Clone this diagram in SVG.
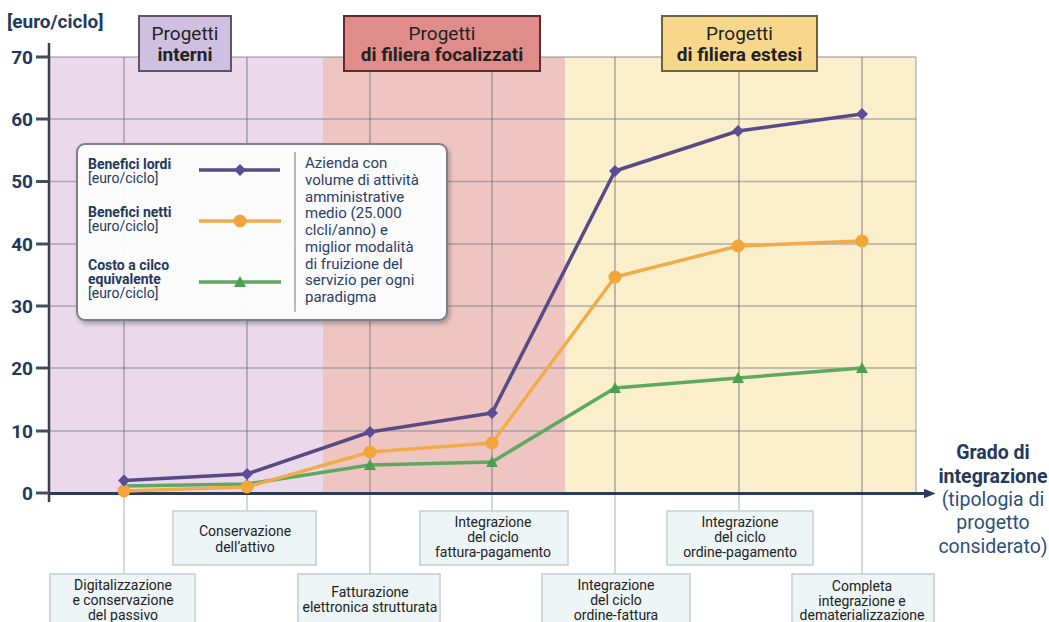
<svg xmlns="http://www.w3.org/2000/svg" width="1049" height="622" viewBox="0 0 1049 622">
<defs>
<style>
text{font-family:Roboto,"Liberation Sans",sans-serif}
.tick{font-size:19px;font-weight:700;fill:#23395b;text-anchor:end}
.hdr{font-size:19px;fill:#222;text-anchor:middle}
.hdrb{font-size:19px;fill:#222;text-anchor:middle;font-weight:700}
.lab{font-size:14px;fill:#222;text-anchor:middle}
.box{fill:#eef5f7;stroke:#c5ced3;stroke-width:1.5}
.grid{stroke:#7f838c;stroke-width:1.3;opacity:.6}
.vgrid{stroke:#6e7078;stroke-width:1.2;opacity:.7}
.lead{stroke:#a9b0b6;stroke-width:1}
.lg{font-size:14px;fill:#23395b}
.lgb{font-size:14px;fill:#23395b;font-weight:700}
.desc{font-size:15px;fill:#2a4066}
.purp{fill:none;stroke:#574a86;stroke-width:3.5;stroke-linejoin:round}
.oran{fill:none;stroke:#f0ab4a;stroke-width:3.5;stroke-linejoin:round}
.gree{fill:none;stroke:#5ea862;stroke-width:3.5;stroke-linejoin:round}
.xt{font-size:19.5px;text-anchor:middle}
</style>
<marker id="dia" viewBox="-6 -6 12 12" markerWidth="12" markerHeight="12" markerUnits="userSpaceOnUse"><path d="M0,-6 L6,0 L0,6 L-6,0Z" fill="#5b4c99"/></marker>
<marker id="cir" viewBox="-7 -7 14 14" markerWidth="14" markerHeight="14" markerUnits="userSpaceOnUse"><circle r="6.5" fill="#f2a63a"/></marker>
<marker id="tri" viewBox="-6 -6 12 12" markerWidth="12" markerHeight="12" markerUnits="userSpaceOnUse"><path d="M0,-6 L6,5 L-6,5Z" fill="#4aa050"/></marker>
<marker id="arr" viewBox="0 0 10 10" refX="2" refY="5" markerWidth="4" markerHeight="4" orient="auto"><path d="M0,1 L10,5 L0,9Z" fill="#2c3a5c"/></marker>
<filter id="sh" x="-5%" y="-5%" width="110%" height="115%"><feDropShadow dx="2" dy="3" stdDeviation="2" flood-color="#555" flood-opacity="0.45"/></filter>
</defs>
<rect width="1049" height="622" fill="#ffffff"/>
<g id="backgrounds">
<rect x="49" y="57" width="274" height="436" fill="#ebd8ea"/>
<rect x="323" y="57" width="242" height="436" fill="#efc5c2"/>
<rect x="565" y="57" width="351" height="436" fill="#faeecb"/>
</g>
<g id="grid">
<line class="grid" x1="49" y1="57" x2="916" y2="57"/>
<line class="grid" x1="49" y1="119" x2="916" y2="119"/>
<line class="grid" x1="49" y1="181.5" x2="916" y2="181.5"/>
<line class="grid" x1="49" y1="244" x2="916" y2="244"/>
<line class="grid" x1="49" y1="306" x2="916" y2="306"/>
<line class="grid" x1="49" y1="368" x2="916" y2="368"/>
<line class="grid" x1="49" y1="431" x2="916" y2="431"/>
<line class="grid" x1="916" y1="57" x2="916" y2="493" stroke="#b9b5a8" stroke-width="1"/>
<line class="vgrid" x1="124" y1="57" x2="124" y2="493"/>
<line class="vgrid" x1="247" y1="57" x2="247" y2="493"/>
<line class="vgrid" x1="370" y1="57" x2="370" y2="493"/>
<line class="vgrid" x1="492" y1="57" x2="492" y2="493"/>
<line class="vgrid" x1="615" y1="57" x2="615" y2="493"/>
<line class="vgrid" x1="739" y1="57" x2="739" y2="493"/>
<line class="vgrid" x1="862" y1="57" x2="862" y2="493"/>
</g>
<g id="connectors">
<line class="lead" x1="124" y1="495" x2="124" y2="574"/>
<line class="lead" x1="247" y1="495" x2="247" y2="511"/>
<line class="lead" x1="370" y1="495" x2="370" y2="574"/>
<line class="lead" x1="492" y1="495" x2="492" y2="511"/>
<line class="lead" x1="615" y1="495" x2="615" y2="574" stroke="#8a9096"/>
<line class="lead" x1="739" y1="495" x2="739" y2="511"/>
<line class="lead" x1="862" y1="495" x2="862" y2="574" stroke="#8a9096"/>
</g>
<g id="axes">
<line x1="49" y1="43" x2="49" y2="502" stroke="#3a3f4c" stroke-width="2.5"/>
<line x1="36" y1="57" x2="49" y2="57" stroke="#4a4d55" stroke-width="3"/>
<line x1="36" y1="119" x2="49" y2="119" stroke="#4a4d55" stroke-width="3"/>
<line x1="36" y1="181.5" x2="49" y2="181.5" stroke="#4a4d55" stroke-width="3"/>
<line x1="36" y1="244" x2="49" y2="244" stroke="#4a4d55" stroke-width="3"/>
<line x1="36" y1="306" x2="49" y2="306" stroke="#4a4d55" stroke-width="3"/>
<line x1="36" y1="368" x2="49" y2="368" stroke="#4a4d55" stroke-width="3"/>
<line x1="36" y1="431" x2="49" y2="431" stroke="#4a4d55" stroke-width="3"/>
<line x1="36" y1="493" x2="49" y2="493" stroke="#4a4d55" stroke-width="3"/>
<line x1="49" y1="493.5" x2="926" y2="493.5" stroke="#2c3a5c" stroke-width="3" marker-end="url(#arr)"/>
<text x="7" y="28" font-size="19" font-weight="700" fill="#23395b">[euro/ciclo]</text>
<text class="tick" x="33" y="64">70</text>
<text class="tick" x="33" y="126">60</text>
<text class="tick" x="33" y="188">50</text>
<text class="tick" x="33" y="251">40</text>
<text class="tick" x="33" y="313">30</text>
<text class="tick" x="33" y="375">20</text>
<text class="tick" x="33" y="438">10</text>
<text class="tick" x="33" y="500">0</text>
</g>
<g id="series">
<polyline class="gree" points="124,486 247,484 370,465 492,462 615,388 738,378 862,368" marker-start="url(#tri)" marker-mid="url(#tri)" marker-end="url(#tri)"/>
<polyline class="oran" points="124,491 247,487 370,452 492,443 615,277 738,246 862,241" marker-start="url(#cir)" marker-mid="url(#cir)" marker-end="url(#cir)"/>
<polyline class="purp" points="124,480.5 247,474 370,432 492,413 615,171 738,131 862,114" marker-start="url(#dia)" marker-mid="url(#dia)" marker-end="url(#dia)"/>
</g>
<g id="hdr-interni">
<rect x="139" y="16" width="92" height="55" fill="#cfbfe0" stroke="#5e5368" stroke-width="2"/>
<text class="hdr" x="185" y="40">Progetti</text>
<text class="hdrb" x="185" y="61">interni</text>
</g>
<g id="hdr-focalizzati">
<rect x="344" y="16" width="196" height="55" fill="#e08c8a" stroke="#5e2a2a" stroke-width="2"/>
<text class="hdr" x="442" y="40">Progetti</text>
<text class="hdrb" x="442" y="61">di filiera focalizzati</text>
</g>
<g id="hdr-estesi">
<rect x="662" y="16" width="155" height="55" fill="#f6d78c" stroke="#6e6238" stroke-width="2"/>
<text class="hdr" x="739.5" y="40">Progetti</text>
<text class="hdrb" x="739.5" y="61">di filiera estesi</text>
</g>
<g id="legend">
<rect x="77" y="144" width="370" height="176" rx="8" fill="#ffffff" fill-opacity="0.95" stroke="#7c8088" stroke-width="2" filter="url(#sh)"/>
<line x1="295" y1="152" x2="295" y2="312" stroke="#8a8d92" stroke-width="1.2"/>
<text class="lgb" x="88" y="169">Benefici lordi</text>
<text class="lg" x="88" y="183">[euro/ciclo]</text>
<text class="lgb" x="88" y="217">Benefici netti</text>
<text class="lg" x="88" y="231">[euro/ciclo]</text>
<text class="lgb" x="88" y="270">Costo a cilco</text>
<text class="lgb" x="88" y="284">equivalente</text>
<text class="lg" x="88" y="298">[euro/ciclo]</text>
<line x1="199" y1="170" x2="280" y2="170" stroke="#574a86" stroke-width="3.5"/>
<path d="M240,164 L246,170 L240,176 L234,170Z" fill="#5b4c99"/>
<line x1="199" y1="221" x2="281" y2="221" stroke="#f0ab4a" stroke-width="3.5"/>
<circle cx="240" cy="221" r="6.5" fill="#f2a63a"/>
<line x1="199" y1="282" x2="281" y2="282" stroke="#5ea862" stroke-width="3.5"/>
<path d="M240,276 L246,287 L234,287Z" fill="#4aa050"/>
<text class="desc" x="305" y="168">Azienda con</text>
<text class="desc" x="305" y="184.7">volume di attività</text>
<text class="desc" x="305" y="201.5">amministrative</text>
<text class="desc" x="305" y="218.2">medio (25.000</text>
<text class="desc" x="305" y="235">clcli/anno) e</text>
<text class="desc" x="305" y="251.7">miglior modalità</text>
<text class="desc" x="305" y="268.5">di fruizione del</text>
<text class="desc" x="305" y="285.2">servizio per ogni</text>
<text class="desc" x="305" y="302">paradigma</text>
</g>
<g id="cat-digitalizzazione">
<rect class="box" x="50" y="574" width="145" height="60"/>
<text class="lab" x="123" y="590">Digitalizzazione</text>
<text class="lab" x="123" y="605">e conservazione</text>
<text class="lab" x="123" y="620">del passivo</text>
</g>
<g id="cat-conservazione">
<rect class="box" x="173" y="511" width="143" height="54"/>
<text class="lab" x="245" y="536">Conservazione</text>
<text class="lab" x="245" y="552">dell’attivo</text>
</g>
<g id="cat-fatturazione">
<rect class="box" x="298" y="574" width="142" height="60"/>
<text class="lab" x="370" y="597">Fatturazione</text>
<text class="lab" x="370" y="612">elettronica strutturata</text>
</g>
<g id="cat-fattura-pagamento">
<rect class="box" x="420" y="511" width="148" height="54"/>
<text class="lab" x="493" y="527">Integrazione</text>
<text class="lab" x="493" y="542">del ciclo</text>
<text class="lab" x="493" y="557">fattura-pagamento</text>
</g>
<g id="cat-ordine-fattura">
<rect class="box" x="542" y="574" width="148" height="60"/>
<text class="lab" x="616" y="590">Integrazione</text>
<text class="lab" x="616" y="605">del ciclo</text>
<text class="lab" x="616" y="620">ordine-fattura</text>
</g>
<g id="cat-ordine-pagamento">
<rect class="box" x="667" y="511" width="146" height="54"/>
<text class="lab" x="740" y="527">Integrazione</text>
<text class="lab" x="740" y="542">del ciclo</text>
<text class="lab" x="740" y="557">ordine-pagamento</text>
</g>
<g id="cat-completa">
<rect class="box" x="792" y="574" width="142" height="60"/>
<text class="lab" x="862" y="591">Completa</text>
<text class="lab" x="862" y="606">integrazione e</text>
<text class="lab" x="862" y="620">dematerializzazione</text>
</g>
<g id="xaxis-title">
<text class="xt" x="993" y="459" font-weight="700" fill="#23395b">Grado di</text>
<text class="xt" x="993" y="483" font-weight="700" fill="#23395b">integrazione</text>
<text class="xt" x="993" y="506" fill="#2d5178">(tipologia di</text>
<text class="xt" x="993" y="529" fill="#2d5178">progetto</text>
<text class="xt" x="993" y="553" fill="#2d5178">considerato)</text>
</g>
</svg>
